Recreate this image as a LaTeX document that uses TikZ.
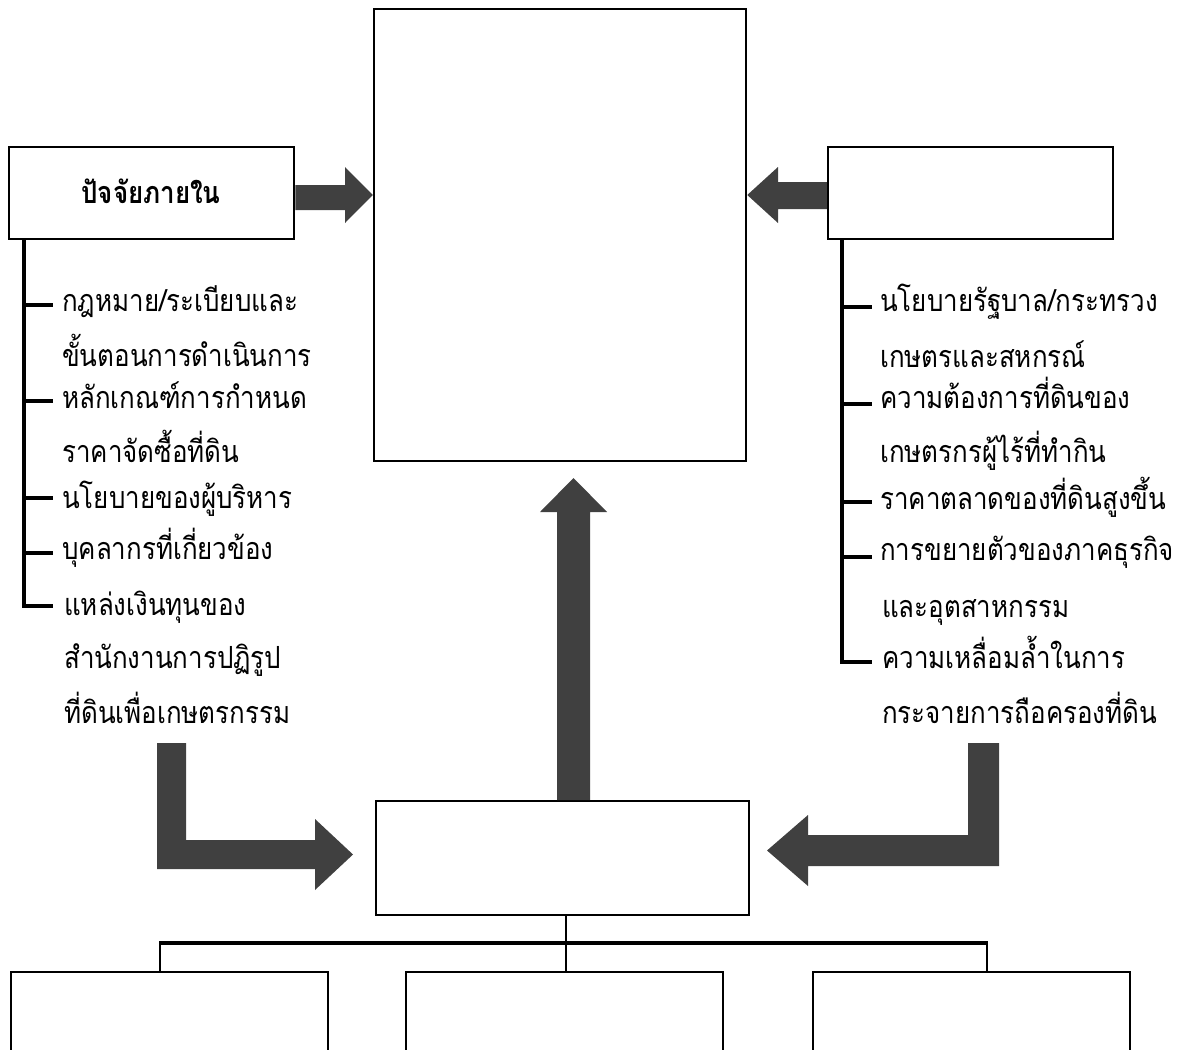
\documentclass[tikz,border=0pt]{standalone}
\usepackage{fontspec}
\newfontfamily\thaifont[Script=Thai,FakeStretch=0.85]{Loma}
\begin{document}
\begin{tikzpicture}[x=1pt,y=-1pt,
  box/.style={draw=black,line width=2.5pt,fill=white,inner sep=0pt,minimum width=#1},
  item/.style={anchor=base west,inner sep=0pt,font=\thaifont\fontsize{30.5}{34}\selectfont},
  spine/.style={line width=4pt},
  blockarrow/.style={fill=arrowgray,draw=none}]
\definecolor{arrowgray}{HTML}{404040}
\useasboundingbox (0,0) rectangle (1182,1049);
\clip (0,0) rectangle (1182,1049);
% main boxes
\node[box=372pt,minimum height=452pt] (top) at (560,235) {};
\node[box=285pt,minimum height=92pt] (inner) at (151.5,193) {};
\node[anchor=base,inner sep=0pt,font=\thaifont\bfseries\fontsize{30.5}{34}\selectfont] (innertext) at (151,203) {ปัจจัยภายใน};
\node[box=285pt,minimum height=92pt] (outer) at (970.5,193) {};
\node[box=373pt,minimum height=114pt,line width=2pt] (mid) at (562.5,858) {};
\node[box=317pt,minimum height=160pt,anchor=north west,line width=2pt] (b1) at (9.5,971) {};
\node[box=317pt,minimum height=160pt,anchor=north west,line width=2pt] (b2) at (405,971) {};
\node[box=317pt,minimum height=160pt,anchor=north west,line width=2pt] (b3) at (811.5,971) {};
% left list
\draw[spine] (24,239) -- (24,608);
\foreach \y in {305,401,498,553,606}{\draw[spine] (22,\y) -- (53,\y);}
\node[item] (l1) at (62,311) {กฎหมาย/ระเบียบและ};
\node[item] (l2) at (62,366) {ขั้นตอนการดำเนินการ};
\node[item] (l3) at (62,408) {หลักเกณฑ์การกำหนด};
\node[item] (l4) at (62,462) {ราคาจัดซื้อที่ดิน};
\node[item] (l5) at (62,508) {นโยบายของผู้บริหาร};
\node[item] (l6) at (62,559) {บุคลากรที่เกี่ยวข้อง};
\node[item] (l7) at (64,615) {แหล่งเงินทุนของ};
\node[item] (l8) at (64,668) {สำนักงานการปฏิรูป};
\node[item] (l9) at (64,723) {ที่ดินเพื่อเกษตรกรรม};
% right list
\draw[spine] (842,239) -- (842,664);
\foreach \y in {307,404,502,557,662}{\draw[spine] (840,\y) -- (872,\y);}
\node[item] (r1) at (880,311) {นโยบายรัฐบาล/กระทรวง};
\node[item] (r2) at (880,367) {เกษตรและสหกรณ์};
\node[item] (r3) at (880,408) {ความต้องการที่ดินของ};
\node[item] (r4) at (880,462) {เกษตรกรผู้ไร้ที่ทำกิน};
\node[item] (r5) at (880,509) {ราคาตลาดของที่ดินสูงขึ้น};
\node[item] (r6) at (880,560) {การขยายตัวของภาคธุรกิจ};
\node[item] (r7) at (882,617) {และอุตสาหกรรม};
\node[item] (r8) at (882,668) {ความเหลื่อมล้ำในการ};
\node[item] (r9) at (882,723) {กระจายการถือครองที่ดิน};
% block arrows
\fill[blockarrow] (inner.east |- 0,185) -- (345,185) -- (345,167) -- (top.west |- 0,195) -- (345,223) -- (345,210) -- (inner.east |- 0,210) -- cycle;
\fill[blockarrow] (outer.west |- 0,182) -- (778,182) -- (778,167) -- (top.east |- 0,195) -- (778,223) -- (778,209) -- (outer.west |- 0,209) -- cycle;
\fill[blockarrow] (557,0 |- mid.north) -- (557,512) -- (540,512) -- (573.5,478) -- (607,512) -- (590,512) -- (590,0 |- mid.north) -- cycle;
\fill[blockarrow] (157,743) -- (186,743) -- (186,840) -- (315,840) -- (315,819) -- (353,854.5) -- (315,890) -- (315,869) -- (157,869) -- cycle;
\fill[blockarrow] (968,743) -- (999,743) -- (999,866) -- (808,866) -- (808,886) -- (767,850.5) -- (808,815) -- (808,835) -- (968,835) -- cycle;
% tree
\draw[line width=2pt] (566,0 |- mid.south) -- (566,943);
\draw[line width=4pt] (159,943) -- (988,943);
\draw[line width=2.2pt] (160,943) -- (160,0 |- b1.north);
\draw[line width=2.2pt] (566,943) -- (566,0 |- b2.north);
\draw[line width=2.2pt] (987,943) -- (987,0 |- b3.north);
\end{tikzpicture}
\end{document}
